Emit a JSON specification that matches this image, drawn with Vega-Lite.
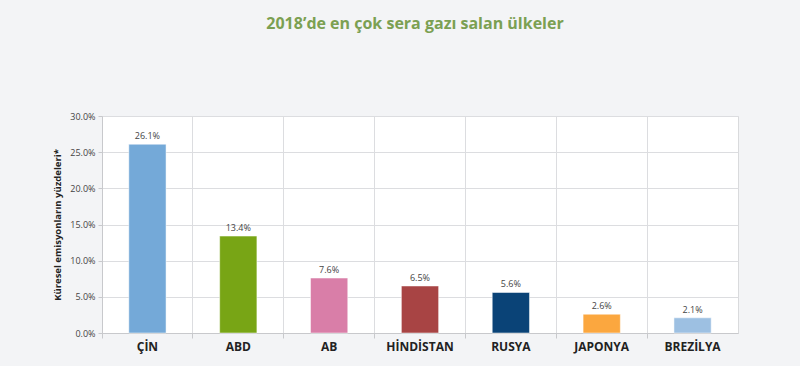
{
  "$schema": "https://vega.github.io/schema/vega-lite/v6.json",
  "width": 636,
  "height": 217,
  "autosize": {"type": "none"},
  "padding": {"left": 102, "top": 116, "right": 62, "bottom": 33},
  "background": "#f3f4f6",
  "title": {
    "text": "2018’de en çok sera gazı salan ülkeler",
    "font": "Open Sans",
    "fontSize": 16,
    "fontWeight": "bold",
    "color": "#7ba052",
    "anchor": "middle",
    "offset": 80,
    "dx": -5
  },
  "config": {
    "view": {"fill": "white", "stroke": "#d9dadc", "strokeWidth": 1},
    "font": "Open Sans"
  },
  "data": {
    "values": [
      {"country": "ÇİN", "value": 26.1},
      {"country": "ABD", "value": 13.4},
      {"country": "AB", "value": 7.6},
      {"country": "HİNDİSTAN", "value": 6.5},
      {"country": "RUSYA", "value": 5.6},
      {"country": "JAPONYA", "value": 2.6},
      {"country": "BREZİLYA", "value": 2.1}
    ]
  },
  "encoding": {
    "x": {
      "field": "country",
      "type": "nominal",
      "sort": null,
      "scale": {"paddingInner": 0, "paddingOuter": 0},
      "axis": {
        "title": null,
        "labelAngle": 0,
        "bandPosition": 0,
        "grid": true,
        "gridColor": "#dcdde0",
        "domainColor": "#c8c9cc",
        "tickColor": "#c8c9cc",
        "tickSize": 5,
        "labelFont": "Open Sans",
        "labelFontSize": 12,
        "labelFontWeight": "bold",
        "labelColor": "#222222",
        "labelPadding": 3
      }
    },
    "y": {
      "field": "value",
      "type": "quantitative",
      "scale": {"domain": [0, 30]},
      "axis": {
        "values": [0, 5, 10, 15, 20, 25, 30],
        "labelExpr": "format(datum.value, '.1f') + '%'",
        "title": "Küresel emisyonların yüzdeleri*",
        "titleFont": "Open Sans",
        "titleFontSize": 9.5,
        "titleFontWeight": "bold",
        "titleColor": "#222222",
        "titlePadding": 7,
        "labelFont": "Open Sans",
        "labelFontSize": 9,
        "labelColor": "#444444",
        "gridColor": "#dcdde0",
        "domainColor": "#c8c9cc",
        "tickColor": "#c8c9cc",
        "tickSize": 4,
        "labelPadding": 3
      }
    }
  },
  "layer": [
    {
      "mark": {"type": "bar", "width": {"band": 0.41}, "stroke": "white", "strokeWidth": 0.5},
      "encoding": {
        "color": {
          "field": "country",
          "type": "nominal",
          "legend": null,
          "scale": {
            "domain": ["ÇİN", "ABD", "AB", "HİNDİSTAN", "RUSYA", "JAPONYA", "BREZİLYA"],
            "range": ["#74a9d8", "#78a515", "#d97ea8", "#a84444", "#0a4377", "#fba73f", "#9dc0e2"]
          }
        }
      }
    },
    {
      "mark": {
        "type": "text",
        "dy": -8,
        "fontSize": 9,
        "color": "#444444",
        "font": "Open Sans",
        "text": {"expr": "format(datum.value, '.1f') + '%'"}
      }
    }
  ]
}
